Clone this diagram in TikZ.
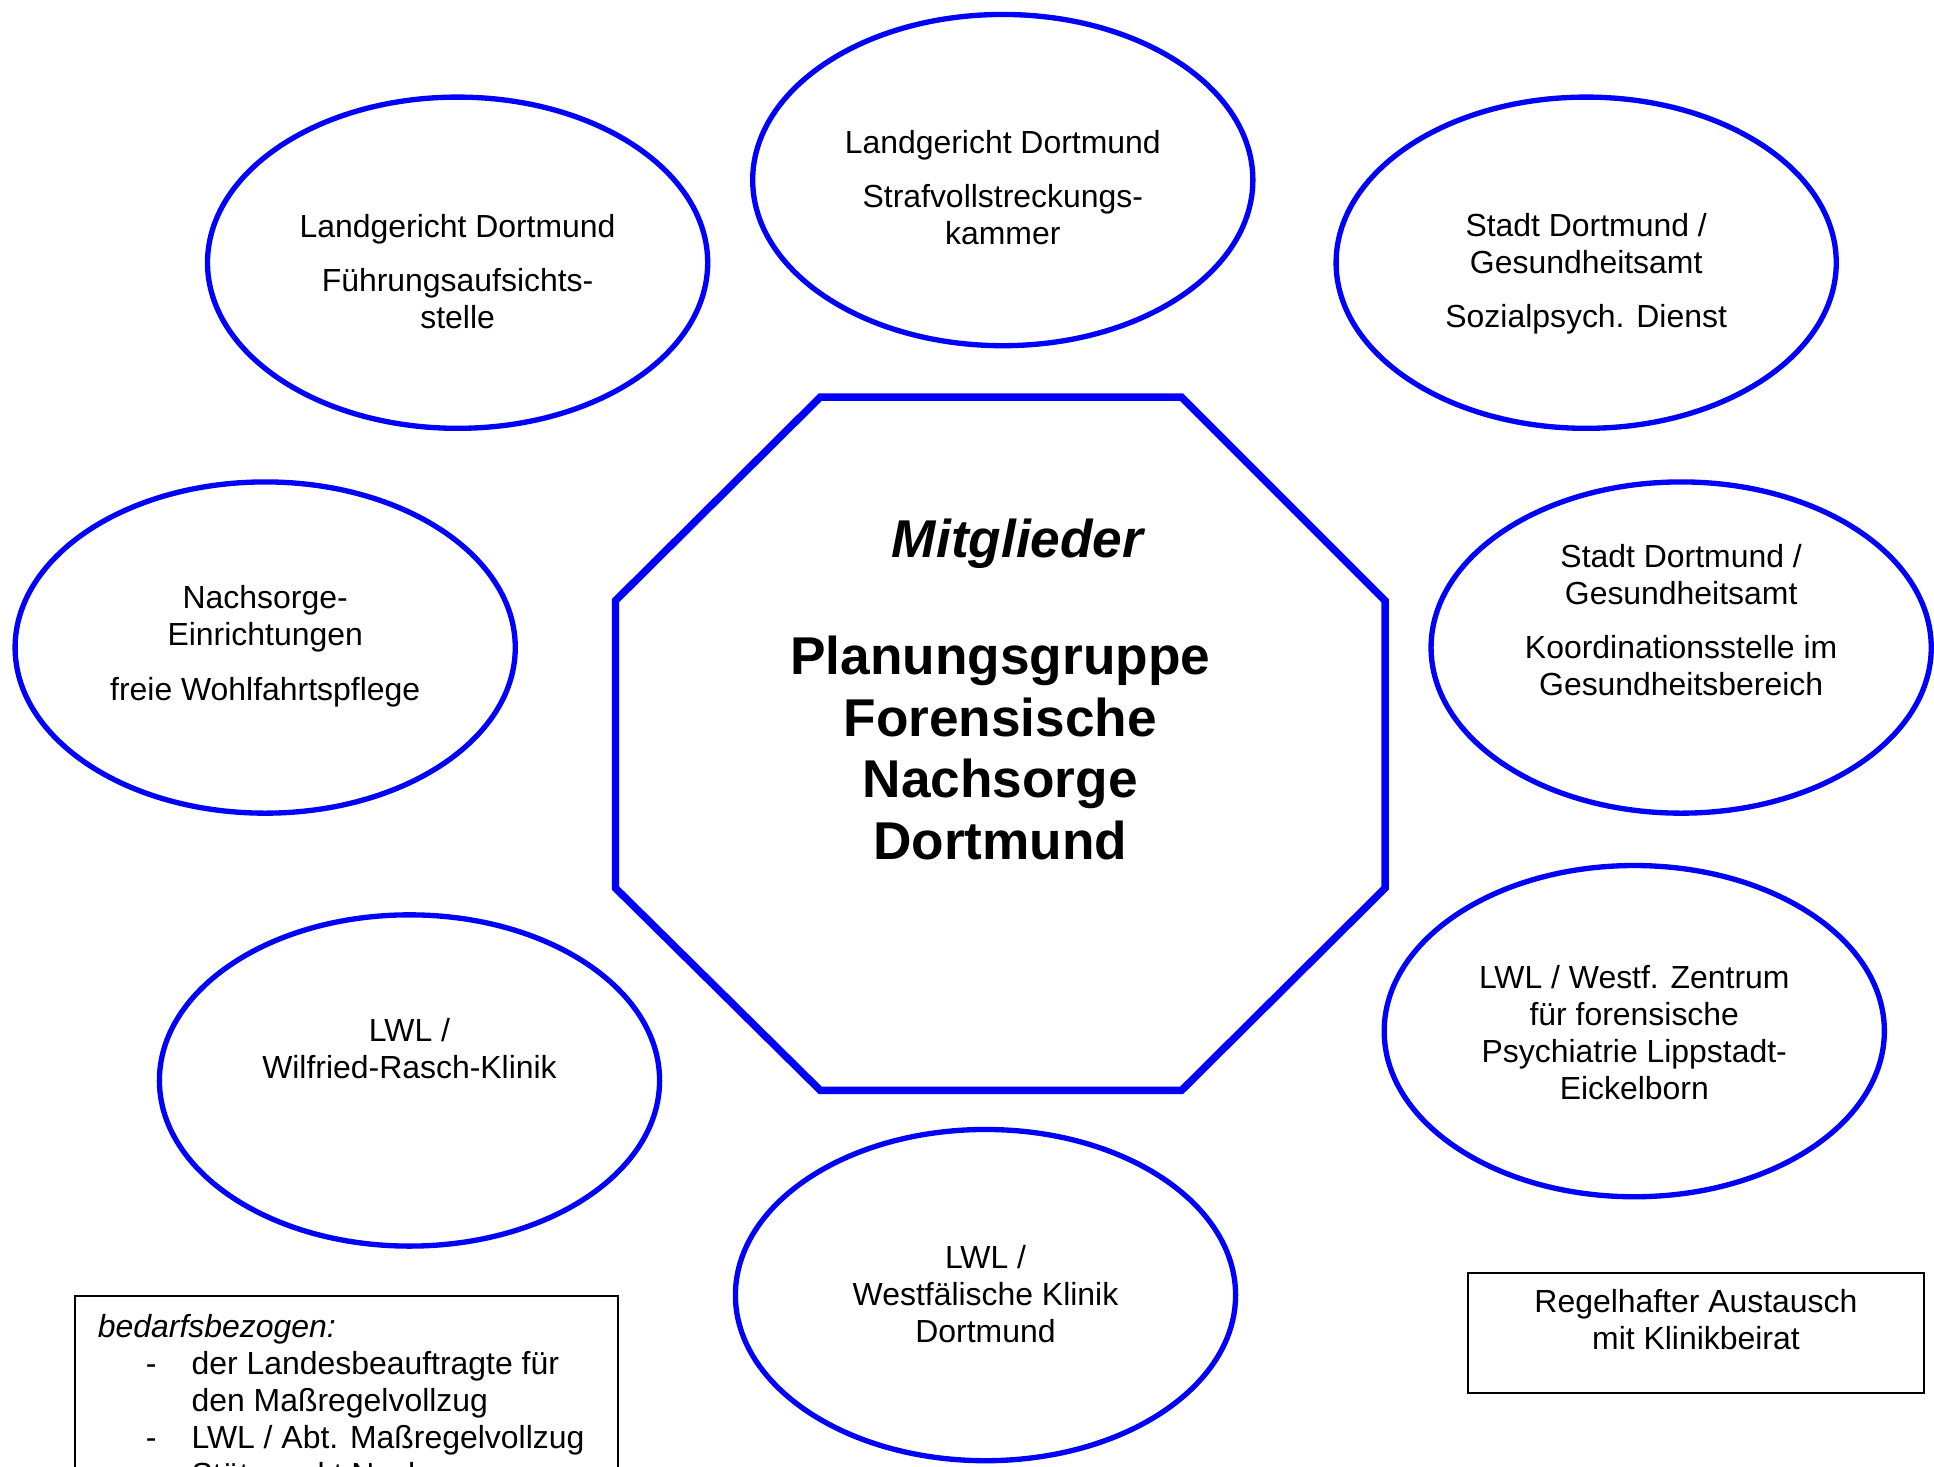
\documentclass[tikz,border=0pt]{standalone}
\usepackage{fontspec}
\setmainfont{Liberation Sans}
\usepackage{tikz}
\usetikzlibrary{shapes.geometric}
\definecolor{lwlblue}{RGB}{0, 0, 255}

\begin{document}
\begin{tikzpicture}[
                    x=0.4636pt,
                    y=-0.4636pt,
                    every node/.style={
                        align=center,
                        inner sep=0pt,
                        font=\fontsize{12}{13.9}\selectfont
                    },
                    member/.style={
                        ellipse,
                        draw=lwlblue,
                        line width=2pt,
                        minimum width=188pt,
                        minimum height=124.5pt
                    },
                    notebox/.style={
                        draw=black,
                        line width=0.8pt
                    },
                    title/.style={
                        font=\fontsize{20}{23.2}\selectfont\bfseries
                    }
                ]
                    \useasboundingbox (0,0) rectangle (1568,1189);
                    \draw[draw=lwlblue, line width=2.8pt] (665,322) -- (958,322) -- (1123,487) -- (1123,720)
                        -- (958,884) -- (665,884) -- (499,720) -- (499,487) -- cycle;
                    \node[title] (gruppe) at (811,559) {\hspace*{13pt}{\itshape Mitglieder}\\[20.8pt]Planungsgruppe\\Forensische\\Nachsorge\\Dortmund};

                    \node[member] (lgfa) at (371,213) {};
                    \node (lgfatext) at (371,220) {Landgericht Dortmund\\[6.5pt]Führungsaufsichts-\\stelle};
                    \node[member] (lgsvk) at (813,146) {};
                    \node (lgsvktext) at (813,152) {Landgericht Dortmund\\[6.5pt]Strafvollstreckungs-\\kammer};
                    \node[member] (spd) at (1286,213) {};
                    \node (spdtext) at (1286,222) {Stadt Dortmund /\\Gesundheitsamt\\[6.5pt]Sozialpsych. Dienst};
                    \node[member] (nachsorge) at (215,525) {};
                    \node (nachsorgetext) at (215,524) {Nachsorge-\\Einrichtungen\\[6.5pt]freie Wohlfahrtspflege};
                    \node[member] (koord) at (1363,525) {};
                    \node (koordtext) at (1363,503) {Stadt Dortmund /\\Gesundheitsamt\\[6.5pt]Koordinationsstelle im\\Gesundheitsbereich};
                    \node[member] (wrk) at (332,876) {};
                    \node (wrktext) at (332,850) {LWL /\\Wilfried-Rasch-Klinik};
                    \node[member] (lippstadt) at (1325,836) {};
                    \node (lippstadttext) at (1325,837) {LWL / Westf. Zentrum\\für forensische\\Psychiatrie Lippstadt-\\Eickelborn};
                    \node[member] (wkd) at (799,1050) {};
                    \node (wkdtext) at (799,1049) {LWL /\\Westfälische Klinik\\Dortmund};

                    \draw[notebox] (61,1051) rectangle (501,1320);
                    \node[anchor=north west, align=left] (bedarf) at (79,1065) {{\itshape bedarfsbezogen:}\\
                        \hspace*{18pt}\makebox[17.2pt][l]{-}der Landesbeauftragte für\\
                        \hspace*{35.2pt}den Maßregelvollzug\\
                        \hspace*{18pt}\makebox[17.2pt][l]{-}LWL / Abt. Maßregelvollzug\\
                        \hspace*{35.2pt}Stützpunkt Nachsorge};

                    \node[notebox, minimum width=171.5pt, minimum height=45pt] (beirat) at (1375,1080.5) {};
                    \node (beirattext) at (1375,1070) {Regelhafter Austausch\\mit Klinikbeirat};
                \end{tikzpicture}
\end{document}
